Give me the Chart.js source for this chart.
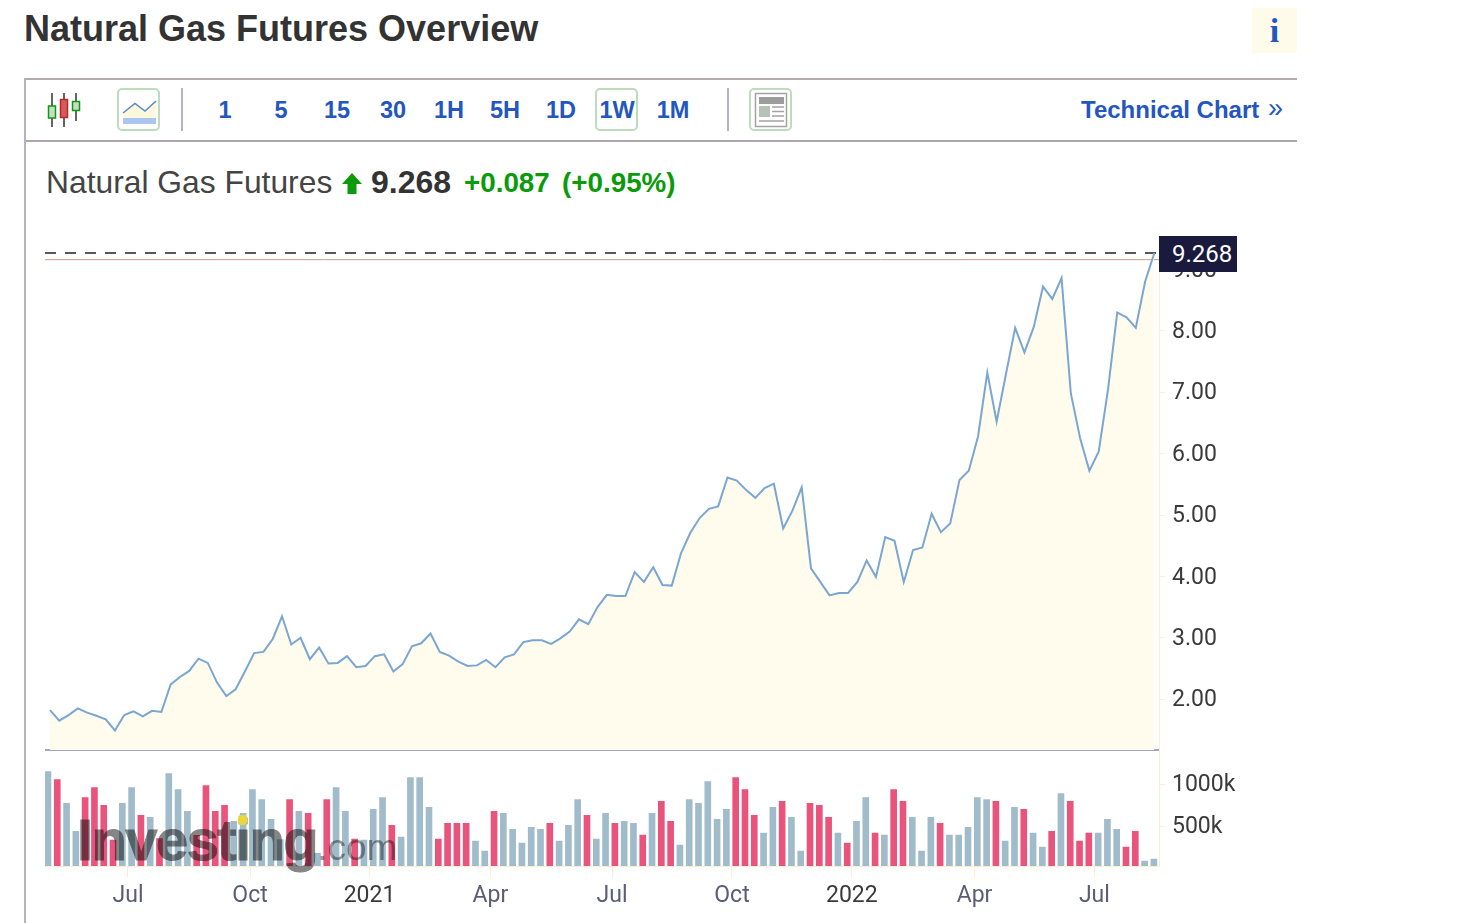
<!DOCTYPE html>
<html>
<head>
<meta charset="utf-8">
<title>Natural Gas Futures Overview</title>
<script src="https://cdn.jsdelivr.net/npm/chart.js@4"></script>
<style>
html, body { margin: 0; padding: 0; background: #fff; width: 1458px; height: 923px; overflow: hidden; }
body { position: relative; font-family: "Liberation Sans", Arial, sans-serif; }
.abs { position: absolute; white-space: nowrap; }
#title { left: 24px; top: 9px; font-size: 36px; line-height: 40px; font-weight: bold; color: #333; }
#infoBox { left: 1252px; top: 8px; width: 45px; height: 45px; background: #fffbea; color: #2456c0; font: bold 34px/45px "Liberation Serif", serif; text-align: center; }
#panel { left: 24px; top: 78px; width: 1273px; height: 845px; border-top: 2px solid #b3aab0; border-left: 2px solid #b7b2c2; box-sizing: border-box; }
#toolLine { left: 26px; top: 140px; width: 1271px; height: 2px; background: #aca6ac; }
.sep { width: 2px; height: 43px; top: 88px; background: #b7b2c2; }
.btn { top: 88px; width: 43px; height: 43px; box-sizing: border-box; border: 2px solid #bcdcbc; border-radius: 5px; }
.res { top: 96px; width: 56px; text-align: center; font-size: 23.5px; line-height: 28px; font-weight: bold; color: #2456c0; }
#techLink { left: 1081px; top: 96px; font-size: 24px; line-height: 28px; font-weight: bold; color: #2456c0; }
#techArrow { left: 1268px; top: 93px; font-size: 27px; line-height: 30px; color: #2456c0; }
.quote { top: 164px; line-height: 36px; }
#qName { left: 46px; font-size: 31.8px; color: #444; }
#qLast { left: 371px; font-size: 32px; font-weight: bold; color: #333; }
#qChg { left: 464px; top: 165px; font-size: 27.8px; font-weight: bold; color: #0a9a0a; }
#qPct { left: 562px; top: 165px; font-size: 27.8px; font-weight: bold; color: #0a9a0a; }
/* the wrappers run past the plots because Chart.js keeps room for the tick labels */
#priceWrap { left: 45px; top: 215px; width: 1214px; height: 556px; }
#volWrap { left: 45px; top: 731px; width: 1214px; height: 186px; }
#priceTag { left: 1159px; top: 236px; width: 78px; height: 36px; padding-left: 13px; box-sizing: border-box; background: #1a1a3e; color: #fff; font: 24px/36px Roboto, sans-serif; }
#logo { left: 77px; top: 805px; font-size: 58px; line-height: 70px; font-weight: bold; letter-spacing: -1.6px; color: #858585; -webkit-text-stroke: 1px #858585; mix-blend-mode: multiply; pointer-events: none; }
#logo span { font-size: 37px; font-weight: normal; letter-spacing: 0; color: #9a9a9a; -webkit-text-stroke: 0; }
#logoDot { left: 238px; top: 815px; width: 9px; height: 10px; background: #e8d83c; border-radius: 3px; }
</style>
</head>
<body>
<div class="abs" id="title">Natural Gas Futures Overview</div>
<div class="abs" id="infoBox">i</div>
<div class="abs" id="panel"></div>
<div class="abs" id="toolLine"></div>

<!-- toolbar icons -->
<svg class="abs" style="left:44px;top:90px" width="40" height="40" viewBox="44 90 40 40">
  <path d="M52 93V127M64 93V127M76 93V121" stroke="#333" stroke-width="1.5" fill="none"/>
  <rect x="48.5" y="106" width="7" height="12" fill="#c9dcc9" stroke="#0a9a0a" stroke-width="1.5"/>
  <rect x="60.5" y="99.5" width="7" height="18" fill="#d85a5a" stroke="#b52a2a" stroke-width="1.5"/>
  <rect x="72.5" y="101.5" width="7" height="9" fill="#c9dcc9" stroke="#0a9a0a" stroke-width="1.5"/>
</svg>
<div class="abs btn" style="left:117px"></div>
<svg class="abs" style="left:117px;top:88px" width="44" height="44" viewBox="117 88 44 44">
  <path d="M123 113L135 103.5L145 111L156 101V118H123Z" fill="#fff8dc"/>
  <rect x="123" y="118" width="33" height="6" fill="#a9c6f0"/>
  <path d="M123 113L135 103.5L145 111L156 101" stroke="#5b88c8" stroke-width="1.5" fill="none"/>
</svg>
<div class="abs sep" style="left:181px"></div>
<div class="abs btn" style="left:595px"></div>
<div class="abs sep" style="left:727px"></div>
<div class="abs btn" style="left:749px"></div>
<svg class="abs" style="left:749px;top:88px" width="44" height="44" viewBox="749 88 44 44">
  <rect x="755.5" y="93.5" width="31" height="33" fill="#fff" stroke="#a3a3a3" stroke-width="1.5"/>
  <rect x="759" y="97" width="25" height="7" fill="#9c9c9c"/>
  <rect x="759" y="106" width="11" height="11" fill="#b5c2b5"/>
  <path d="M772 107H784M772 111.500H784M772 116H784M759 121H784" stroke="#a3a3a3" stroke-width="1.500"/>
</svg>

<div class="abs res" style="left:197px">1</div>
<div class="abs res" style="left:253px">5</div>
<div class="abs res" style="left:309px">15</div>
<div class="abs res" style="left:365px">30</div>
<div class="abs res" style="left:421px">1H</div>
<div class="abs res" style="left:477px">5H</div>
<div class="abs res" style="left:533px">1D</div>
<div class="abs res" style="left:589px">1W</div>
<div class="abs res" style="left:645px">1M</div>
<div class="abs" id="techLink">Technical Chart</div>
<div class="abs" id="techArrow">»</div>

<div class="abs quote" id="qName">Natural Gas Futures</div>
<svg class="abs" style="left:342px;top:173px" width="20" height="21" viewBox="0 0 20 21">
  <path d="M10 0L20 11H14.500V21H5.500V11H0Z" fill="#0a9a0a"/>
</svg>
<div class="abs quote" id="qLast">9.268</div>
<div class="abs quote" id="qChg">+0.087</div>
<div class="abs quote" id="qPct">(+0.95%)</div>

<div class="abs" id="priceWrap"><canvas id="price-chart"></canvas></div>
<div class="abs" id="volWrap"><canvas id="volume-chart"></canvas></div>
<div class="abs" id="priceTag">9.268</div>
<div class="abs" id="logo">Investing<span>.com</span></div>
<div class="abs" id="logoDot"></div>

<script>
// Weekly closes
const prices = [
    1.82, 1.65, 1.74, 1.85, 1.78, 1.73, 1.67, 1.49, 1.74, 1.80,
    1.72, 1.81, 1.79, 2.24, 2.36, 2.46, 2.66, 2.59, 2.27, 2.05,
    2.16, 2.45, 2.75, 2.77, 2.98, 3.35, 2.89, 3.00, 2.65, 2.84,
    2.58, 2.59, 2.70, 2.52, 2.54, 2.70, 2.73, 2.45, 2.57, 2.86,
    2.91, 3.07, 2.77, 2.71, 2.61, 2.54, 2.55, 2.64, 2.52, 2.68,
    2.73, 2.93, 2.96, 2.96, 2.90, 2.99, 3.10, 3.30, 3.22, 3.50,
    3.70, 3.68, 3.68, 4.07, 3.91, 4.15, 3.86, 3.85, 4.38, 4.71,
    4.95, 5.10, 5.14, 5.61, 5.56, 5.41, 5.28, 5.44, 5.51, 4.78,
    5.07, 5.45, 4.13, 3.91, 3.69, 3.73, 3.73, 3.91, 4.26, 3.99,
    4.64, 4.58, 3.91, 4.43, 4.47, 5.02, 4.72, 4.86, 5.57, 5.72,
    6.28, 7.32, 6.52, 7.29, 8.05, 7.65, 8.06, 8.72, 8.52, 8.86,
    6.98, 6.25, 5.72, 6.03, 7.04, 8.30, 8.22, 8.05, 8.80, 9.268
];

// Weekly volume in thousands
const volumes = [
    1158, 1064, 780, 449, 851, 969, 757, 343, 780, 969,
    638, 615, 363, 1135, 946, 686, 400, 993, 686, 757,
    567, 662, 946, 827, 591, 350, 827, 686, 662, 185,
    827, 969, 686, 355, 343, 709, 851, 520, 378, 1087,
    1087, 733, 355, 544, 544, 544, 331, 213, 686, 662,
    473, 307, 496, 473, 544, 331, 520, 827, 638, 355,
    662, 544, 567, 544, 402, 662, 804, 567, 284, 827,
    780, 1040, 591, 709, 1087, 946, 638, 426, 733, 804,
    615, 213, 780, 757, 615, 426, 307, 567, 851, 426,
    402, 946, 804, 615, 213, 615, 544, 402, 402, 496,
    851, 827, 804, 331, 733, 709, 426, 260, 449, 898,
    804, 331, 426, 426, 591, 473, 260, 449, 95, 118
];

// R = red bar, B = blue bar, one letter per week
const volumeSides = (
    'BRBBRRRRBB' + 'RBRBBBRRRR' + 'BBBBBBRBRB' + 'RBBRBBBRBB' +
    'BBRRRRBBRB' + 'BBBBRBBBRB' + 'BRBBRBRRBB' + 'BBBBRRRBBR' +
    'BBRRRBRBBR' + 'BRRBBBRBBB' + 'BBRBBRBBRB' + 'RRRBBBRRBB'
).split('');

const priceTicks = [2, 3, 4, 5, 6, 7, 8, 9];
const volumeTicks = [500, 1000];

// Axis labels sit between weekly bars, so positions are fractional weeks
const timeTickWeeks = [8.61, 21.74, 34.6, 47.6, 60.7, 73.6, 86.5, 99.7, 112.6];
const timeTickLabels = ['Jul', 'Oct', '2021', 'Apr', 'Jul', 'Oct', '2022', 'Apr', 'Jul'];

const lastPrice = 9.268;
const topRuleValue = 9.16;

const FAINT = '#fdf0d2';
const TICK_FONT = { family: 'Roboto, sans-serif', size: 23 };

function fixedAxisWidth(axis) {
    axis.width = 100;
}

// Price chart: filled line, dashed last price level, thin rule above the plot
const priceMin = -0.54;
const priceMax = 119.5;

new Chart(document.getElementById('price-chart'), {
    type: 'line',
    data: {
        datasets: [
            {
                data: prices.map((p, i) => ({ x: i, y: p })),
                borderColor: '#7aa6d2',
                backgroundColor: '#fffcee',
                borderWidth: 2,
                pointRadius: 0,
                tension: 0,
                fill: 'start'
            },
            {
                data: [{ x: priceMin, y: lastPrice }, { x: priceMax, y: lastPrice }],
                borderColor: '#222',
                borderWidth: 1.5,
                borderDash: [11, 9],
                pointRadius: 0,
                fill: false
            },
            {
                data: [{ x: priceMin, y: topRuleValue }, { x: priceMax, y: topRuleValue }],
                borderColor: '#d09a80',
                borderWidth: 1,
                pointRadius: 0,
                fill: false
            }
        ]
    },
    options: {
        responsive: true,
        maintainAspectRatio: false,
        animation: false,
        layout: { autoPadding: false },
        plugins: { legend: { display: false }, tooltip: { enabled: false } },
        scales: {
            x: {
                type: 'linear',
                min: priceMin,
                max: priceMax,
                afterFit: axis => { axis.height = 1; },
                ticks: { display: false },
                grid: { display: false },
                border: { color: '#a3a6c4', width: 2 }
            },
            y: {
                position: 'right',
                min: 1.168,
                max: 9.549,
                afterFit: fixedAxisWidth,
                afterBuildTicks: axis => { axis.ticks = priceTicks.map(v => ({ value: v })); },
                ticks: {
                    font: TICK_FONT,
                    color: '#3a3a3a',
                    padding: 7,
                    labelOffset: 1.5,
                    callback: v => v.toFixed(2)
                },
                grid: { drawOnChartArea: false, color: FAINT, tickLength: 6 },
                border: { color: FAINT, dash: [2, 2] }
            }
        }
    }
});

// Volume chart: bars in two colours, time labels underneath
new Chart(document.getElementById('volume-chart'), {
    type: 'bar',
    data: {
        datasets: [{
            data: volumes.map((v, i) => ({ x: i, y: v })),
            backgroundColor: volumeSides.map(s => (s === 'R' ? '#e9547c' : '#a0bccb')),
            barThickness: 6
        }]
    },
    options: {
        responsive: true,
        maintainAspectRatio: false,
        animation: false,
        layout: { autoPadding: false },
        plugins: { legend: { display: false }, tooltip: { enabled: false } },
        scales: {
            x: {
                type: 'linear',
                offset: false,
                min: -0.32,
                max: 119.55,
                afterFit: axis => { axis.height = 51; },
                afterBuildTicks: axis => { axis.ticks = timeTickWeeks.map(w => ({ value: w })); },
                ticks: {
                    font: TICK_FONT,
                    maxRotation: 0,
                    autoSkip: false,
                    padding: 4,
                    color: ctx => (/^\d/.test(timeTickLabels[ctx.index]) ? '#3a3a3a' : '#5c5c78'),
                    callback: (v, i) => timeTickLabels[i]
                },
                grid: { offset: false, drawOnChartArea: false, color: FAINT, tickLength: 12 },
                border: { color: FAINT }
            },
            y: {
                position: 'right',
                min: 35,
                max: 1395,
                afterFit: fixedAxisWidth,
                afterBuildTicks: axis => { axis.ticks = volumeTicks.map(v => ({ value: v })); },
                ticks: {
                    font: TICK_FONT,
                    color: '#3a3a3a',
                    padding: 7,
                    callback: v => v + 'k'
                },
                grid: { drawOnChartArea: false, color: FAINT, tickLength: 6 },
                border: { color: FAINT, dash: [2, 2] }
            }
        }
    }
});
</script>
</body>
</html>
